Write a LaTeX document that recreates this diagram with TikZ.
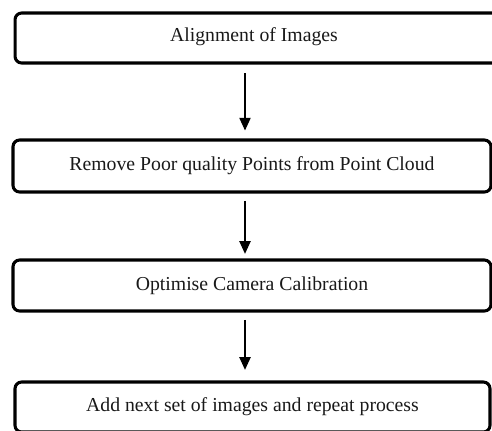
\documentclass[tikz,border=0pt]{standalone}
\usepackage{fontspec}
\setmainfont{Liberation Serif}
\usetikzlibrary{arrows.meta}
\begin{document}
\begin{tikzpicture}[x=0.75pt,y=-0.75pt,
  box/.style={draw=black, line width=2.3pt, rounded corners=5pt, fill=white,
    inner sep=0pt, font=\fontsize{14.8pt}{17pt}\selectfont, text=black!90},
  arr/.style={draw=black, line width=0.8pt, -{Triangle[length=9.5pt,width=8.5pt]}}]
\useasboundingbox (0,0) rectangle (492,430);
\node[box, minimum width=364pt, minimum height=37.5pt] (b1) at (257.7,38) {};
\node (t1) at (254,37) [font=\fontsize{14.8pt}{17pt}\selectfont, text=black!90, inner sep=0pt] {Alignment of Images};
\node[box, minimum width=358.5pt, minimum height=39pt] (b2) at (252,166) {Remove Poor quality Points from Point Cloud};
\node[box, minimum width=358.5pt, minimum height=38.25pt] (b3) at (252,285.5) {Optimise Camera Calibration};
\node[box, minimum width=356.25pt, minimum height=37.5pt] (b4) at (252.5,407) {Add next set of images and repeat process};
\coordinate (ax) at (245,0);
\draw[arr, shorten <=6.5pt, shorten >=6pt] (b1.south -| ax) -- (b2.north -| ax);
\draw[arr, shorten <=5.5pt, shorten >=3.5pt] (b2.south -| ax) -- (b3.north -| ax);
\draw[arr, shorten <=5.5pt, shorten >=8pt] (b3.south -| ax) -- (b4.north -| ax);
\end{tikzpicture}
\end{document}
